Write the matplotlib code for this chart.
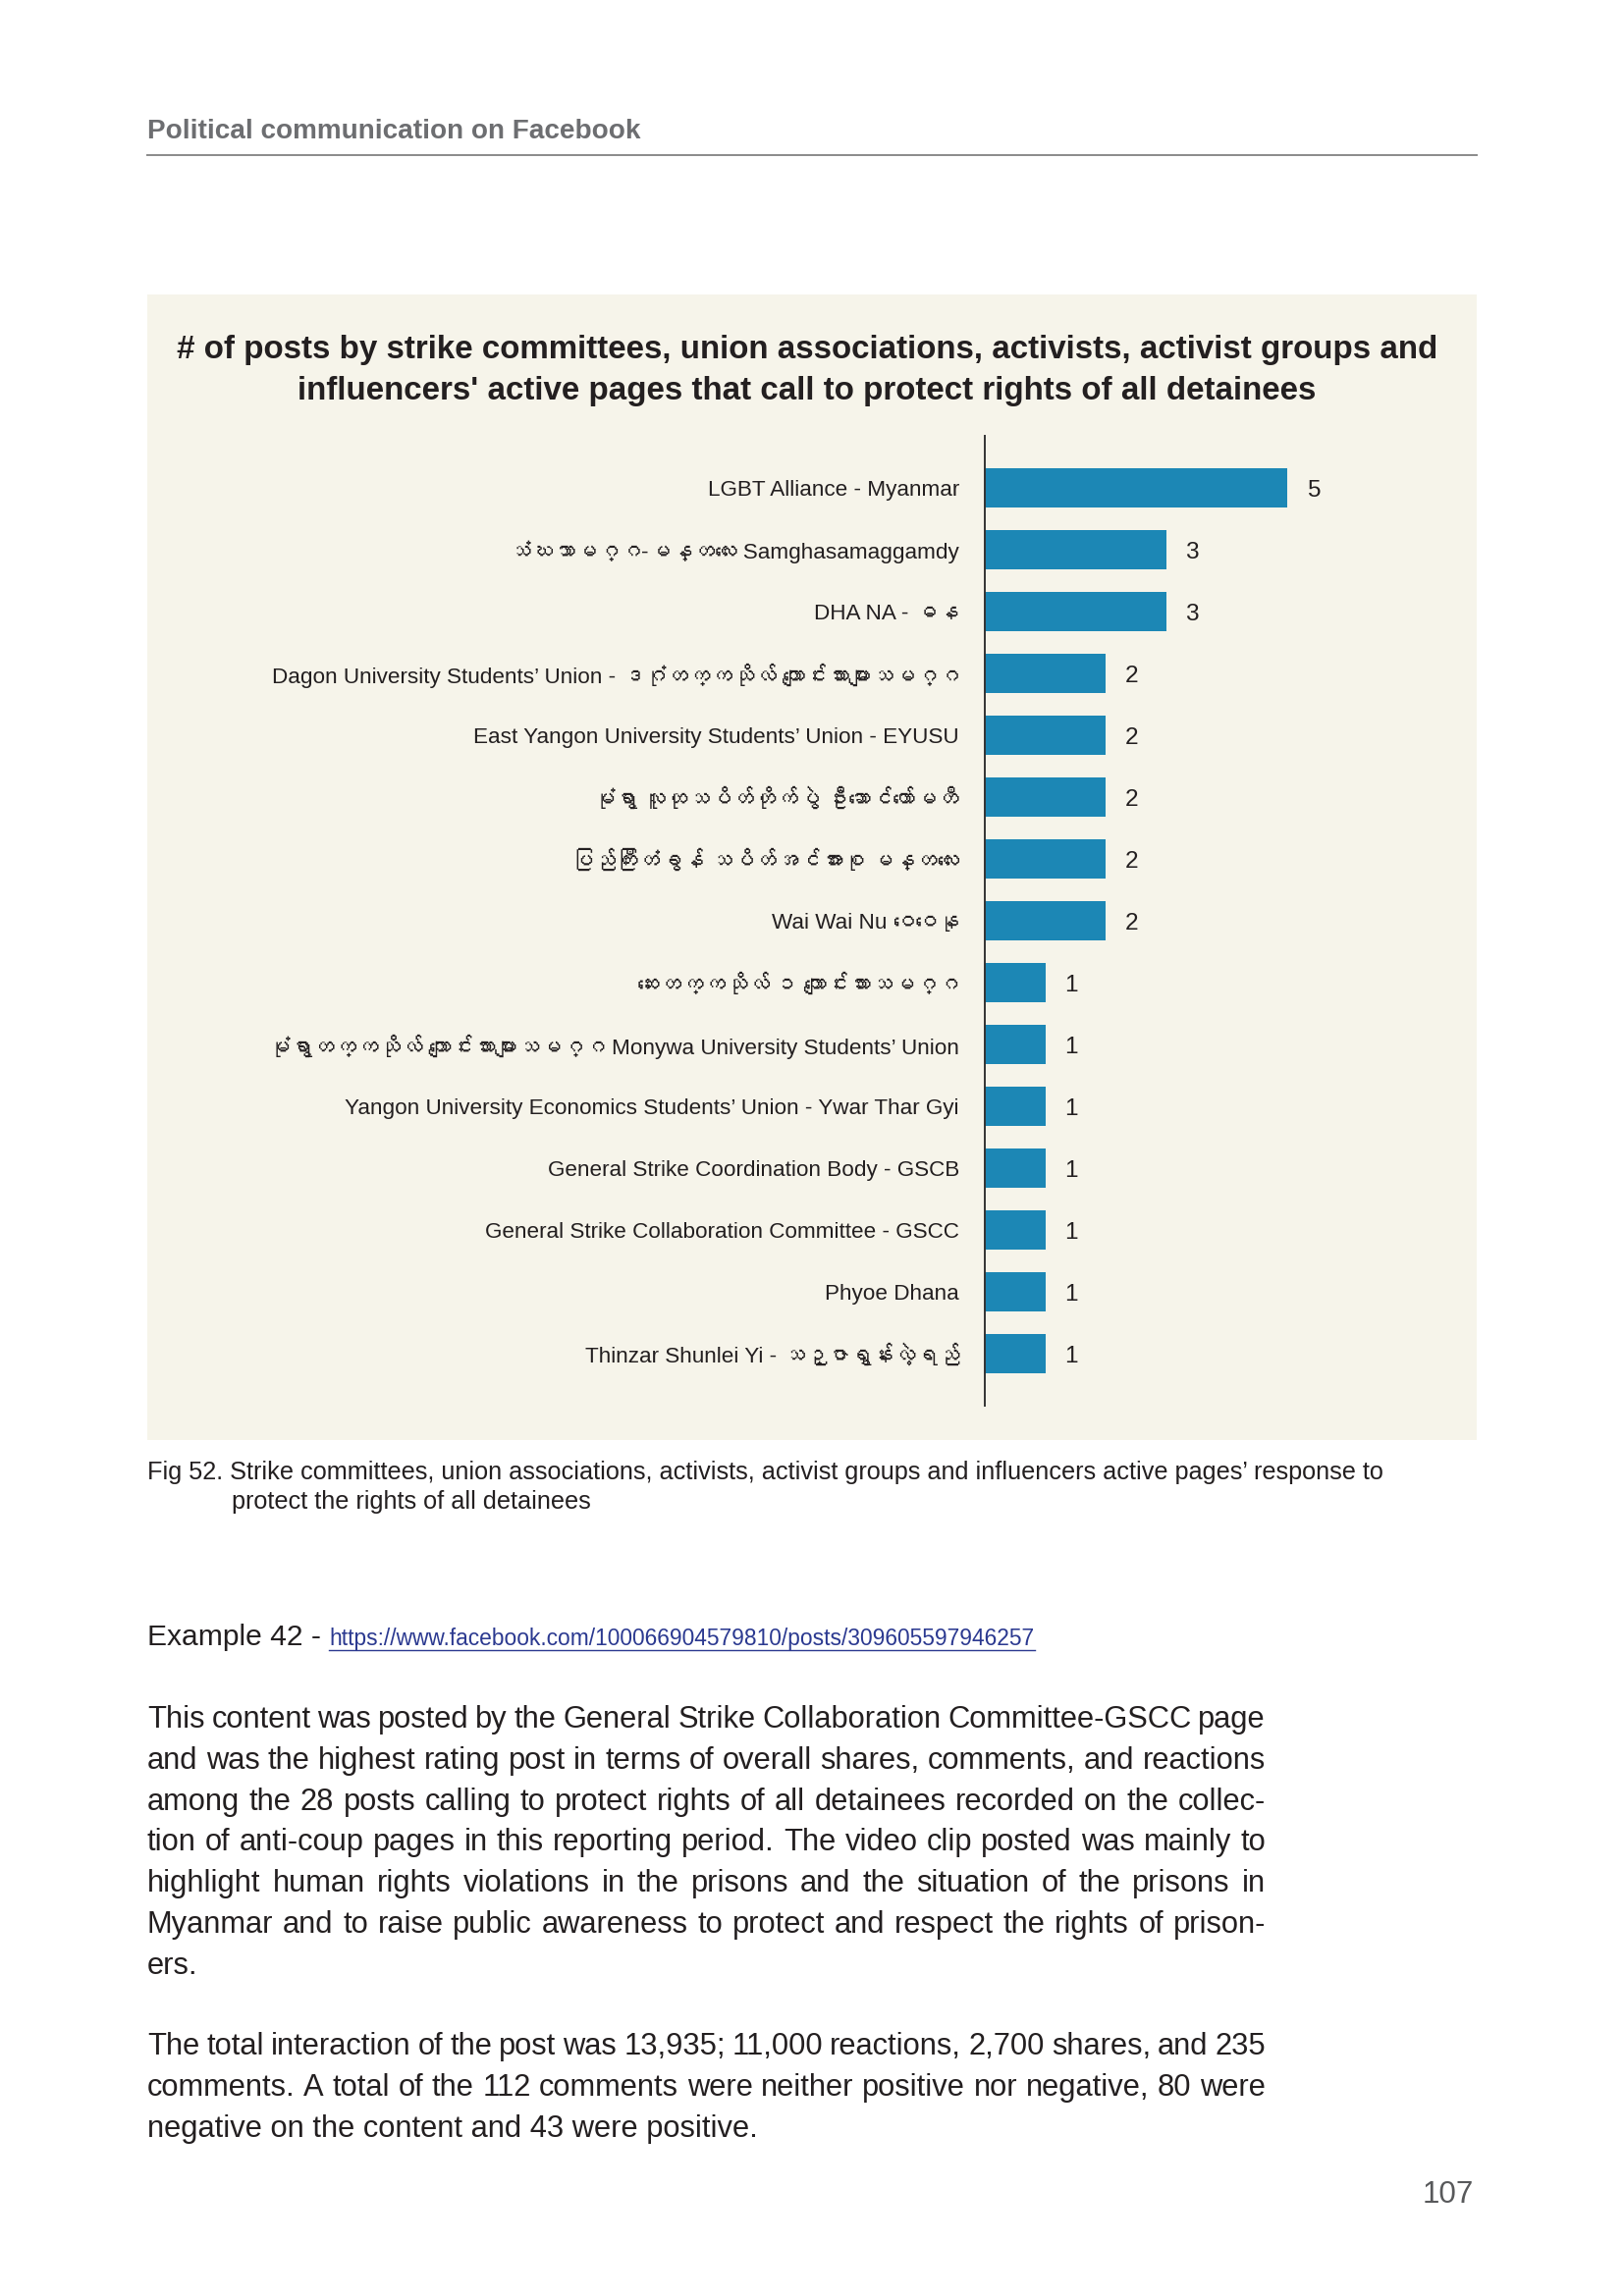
import matplotlib as mpl
mpl.use('Agg')
import matplotlib.pyplot as plt
from matplotlib import font_manager
from matplotlib.ft2font import FT2Font
from matplotlib.patches import Rectangle
from matplotlib.lines import Line2D

# page size (A4 at 200 dpi)
W, H = 1654, 2339
DPI = 200

# data
pages = ['LGBT Alliance - Myanmar',
         'သံဃသာမဂ္ဂ-မန္တလေး Samghasamaggamdy',
         'DHA NA - ဓန',
         'Dagon University Students’ Union - ဒဂုံတက္ကသိုလ် ကျောင်းသားများသမဂ္ဂ',
         'East Yangon University Students’ Union - EYUSU',
         'မုံရွာ လူထုသပိတ်တိုက်ပွဲ ဦးဆောင်ကော်မတီ',
         'ပြည်ကြီးတံခွန် သပိတ်အင်အားစု မန္တလေး',
         'Wai Wai Nu ဝေဝေနု',
         'ဆေးတက္ကသိုလ် ၁ ကျောင်းသားသမဂ္ဂ',
         'မုံရွာတက္ကသိုလ် ကျောင်းသားများသမဂ္ဂ Monywa University Students’ Union',
         'Yangon University Economics Students’ Union - Ywar Thar Gyi',
         'General Strike Coordination Body - GSCB',
         'General Strike Collaboration Committee - GSCC',
         'Phyoe Dhana',
         'Thinzar Shunlei Yi - သဉ္ဇာရွှန်းလဲ့ရည်']
posts = [5, 3, 3, 2, 2, 2, 2, 2, 1, 1, 1, 1, 1, 1, 1]

title = ['# of posts by strike committees, union associations, activists, activist groups and',
         'influencers\' active pages that call to protect rights of all detainees']
caption = ['Fig 52. Strike committees, union associations, activists, activist groups and influencers active pages’ response to',
           'protect the rights of all detainees']
para1 = ['This content was posted by the General Strike Collaboration Committee-GSCC page',
         'and was the highest rating post in terms of overall shares, comments, and reactions',
         'among the 28 posts calling to protect rights of all detainees recorded on the collec-',
         'tion of anti-coup pages in this reporting period. The video clip posted was mainly to',
         'highlight human rights violations in the prisons and the situation of the prisons in',
         'Myanmar and to raise public awareness to protect and respect the rights of prison-',
         'ers.']
para2 = ['The total interaction of the post was 13,935; 11,000 reactions, 2,700 shares, and 235',
         'comments. A total of the 112 comments were neither positive nor negative, 80 were',
         'negative on the content and 43 were positive.']
link = 'https://www.facebook.com/100066904579810/posts/309605597946257'

# look for a font that can draw Myanmar script
mm_family = None
for f in font_manager.fontManager.ttflist:
    try:
        if 0x1000 in FT2Font(f.fname).get_charmap():
            mm_family = f.name
            break
    except Exception:
        pass

fams = ['Liberation Sans']
if mm_family:
    fams.append(mm_family)
fams.append('DejaVu Sans')
plt.rcParams['font.family'] = fams

INK = '#231f20'

fig = plt.figure(figsize=(W / DPI, H / DPI), dpi=DPI)


def fx(x):
    return x / W


def fy(y):
    return 1 - y / H


# header
fig.text(fx(150), fy(134), 'Political communication on Facebook', ha='left', va='center',
         fontsize=10.05, weight='bold', color='#6d6e71')
fig.add_artist(Line2D([fx(150), fx(1504)], [fy(158), fy(158)], transform=fig.transFigure,
                      color='#8a8a8a', lw=0.7))

# chart panel (behind the axes)
fig.patches.append(Rectangle((fx(150), fy(1467)), (1504 - 150) / W, (1467 - 300) / H,
                             transform=fig.transFigure, facecolor='#f6f4ea',
                             edgecolor='none', zorder=-5))

for k, line in enumerate(title):
    fig.text(fx(822), fy(357 + 41 * k), line, ha='center', va='center',
             fontsize=11.95, weight='bold', color=INK)

ax = fig.add_axes([fx(1003), fy(1432), (1465 - 1003) / W, (1432 - 444) / H])
ax.set_zorder(2)
ax.patch.set_visible(False)
ax.barh(range(len(posts)), posts, height=0.63, color='#1c87b5')
ax.set_ylim(len(posts) - 1 + 0.84, -0.84)
ax.set_xlim(0, 7.5)
for s in ['top', 'right', 'bottom']:
    ax.spines[s].set_visible(False)
ax.spines['left'].set_color('#333333')
ax.spines['left'].set_linewidth(0.7)
ax.set_xticks([])
ax.set_yticks(range(len(pages)))
ax.set_yticklabels(pages, fontsize=8.1, color=INK)
ax.tick_params(axis='y', length=0, pad=9.4)
for i, v in enumerate(posts):
    ax.text(v + 0.32, i + 0.05, '%d' % v, ha='left', va='center', fontsize=8.8, color=INK)

# caption
fig.text(fx(150), fy(1500), caption[0], ha='left', va='center', fontsize=9.1, color=INK)
fig.text(fx(236), fy(1530), caption[1], ha='left', va='center', fontsize=9.1, color=INK)

renderer = fig.canvas.get_renderer()

# example line with link
ex = fig.text(fx(150), fy(1676), 'Example 42 - ', ha='left', va='baseline',
              fontsize=10.8, color=INK)
ex_w = ex.get_window_extent(renderer).width
lk = fig.text(fx(150 + ex_w), fy(1676), link, ha='left', va='baseline',
              fontsize=8.2, color='#2b3990')
lk_w = lk.get_window_extent(renderer).width
fig.add_artist(Line2D([fx(150 + ex_w), fx(150 + ex_w + lk_w)], [fy(1681), fy(1681)],
                      transform=fig.transFigure, color='#2b3990', lw=0.5))


def justified(lines, x0, x1, y0, step, size):
    for k, line in enumerate(lines):
        y = fy(y0 + k * step)
        if k == len(lines) - 1:
            fig.text(fx(x0), y, line, ha='left', va='baseline', fontsize=size, color=INK)
            continue
        words = line.split()
        ts = [fig.text(0, y, w, ha='left', va='baseline', fontsize=size, color=INK) for w in words]
        ws = [t.get_window_extent(renderer).width for t in ts]
        gap = (x1 - x0 - sum(ws)) / (len(words) - 1)
        x = x0
        for t, w in zip(ts, ws):
            t.set_x(fx(x))
            x += w + gap


justified(para1, 150, 1289, 1760, 41.8, 11.1)
justified(para2, 150, 1289, 2093, 41.8, 11.1)

# page number
fig.text(fx(1475), fy(2236), '107', ha='center', va='center', fontsize=11.3, color='#58595b')

fig.savefig('out.png', dpi=DPI, facecolor='white')
